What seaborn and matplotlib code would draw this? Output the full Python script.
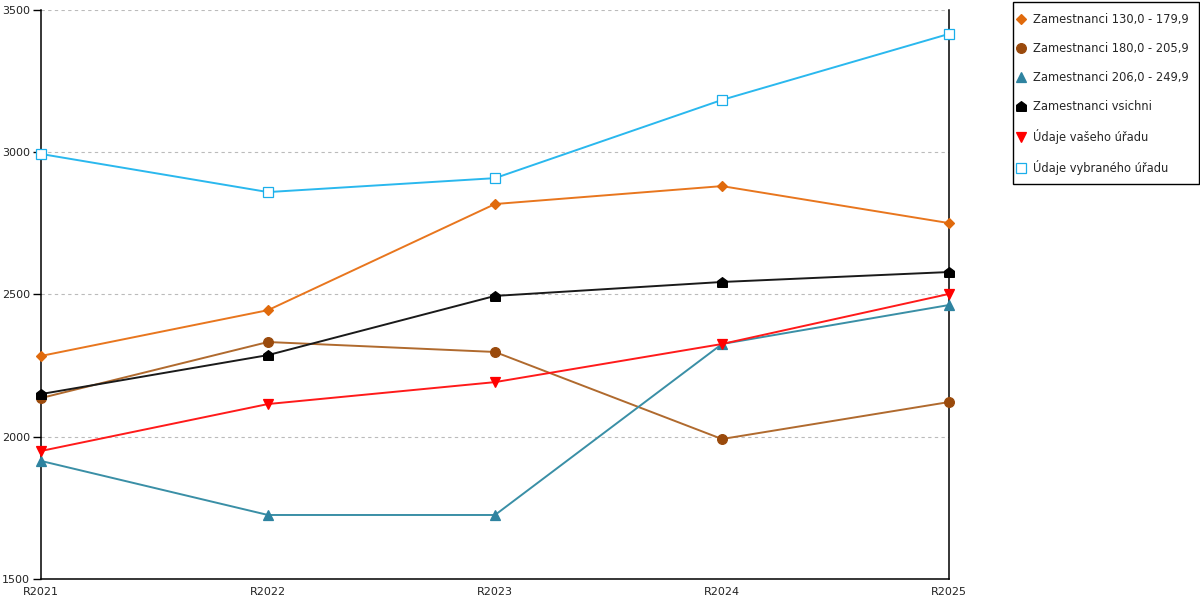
import matplotlib
matplotlib.use("Agg")
import matplotlib.pyplot as plt
import seaborn as sns
import pandas as pd
from matplotlib.lines import Line2D
from matplotlib.patches import Rectangle

roky = ["R2021", "R2022", "R2023", "R2024", "R2025"]

zam_130_179 = [2284, 2445, 2818, 2881, 2751]
zam_180_205 = [2136, 2333, 2298, 1992, 2122]
zam_206_249 = [1915, 1725, 1725, 2326, 2463]
zam_vsichni = [2150, 2287, 2495, 2544, 2579]
vas_urad = [1950, 2115, 2192, 2326, 2502]
vybrany_urad = [2994, 2860, 2909, 3184, 3416]

# marker "domecek" pro vsechny zamestnance
domecek = [(-1, -1), (1, -1), (1, 0.25), (0, 1), (-1, 0.25), (-1, -1)]

serie = [
    ("Zamestnanci 130,0 - 179,9", zam_130_179, "#E8761E", "#E06A0C", "D", 5.5, None),
    ("Zamestnanci 180,0 - 205,9", zam_180_205, "#B06A2E", "#9A4A0C", "o", 7, None),
    ("Zamestnanci 206,0 - 249,9", zam_206_249, "#3A8FA6", "#2E83A0", "^", 7.5, None),
    ("Zamestnanci vsichni", zam_vsichni, "#1A1A1A", "#000000", domecek, 7, None),
    ("Údaje vašeho úřadu", vas_urad, "#FF1A1A", "#FF0000", "v", 7.5, None),
    ("Údaje vybraného úřadu", vybrany_urad, "#2AB8EE", "#1AAEEA", "s", 7, "white"),
]

sns.set_style("white")
plt.rcParams["font.family"] = ["DejaVu Sans"]

fig = plt.figure(figsize=(12, 6), dpi=100)
ax = fig.add_axes([41 / 1200, 21 / 600, 908 / 1200, 569 / 600])

handles = []
for nazev, hodnoty, c_line, c_mark, mk, ms, face in serie:
    df = pd.DataFrame({"rok": roky, "hodnota": hodnoty})
    fc = face if face is not None else c_mark
    sns.lineplot(data=df, x="rok", y="hodnota", ax=ax, color=c_line,
                 linewidth=1.4, marker=mk, markersize=ms,
                 markerfacecolor=fc, markeredgecolor=c_mark,
                 markeredgewidth=0.9, clip_on=False, zorder=3)
    handles.append(Line2D([], [], linestyle="none", marker=mk, markersize=ms,
                          markerfacecolor=fc, markeredgecolor=c_mark,
                          markeredgewidth=0.9, label=nazev))

ax.set_xlim(0, 4)
ax.set_ylim(1500, 3500)
ax.set_yticks([1500, 2000, 2500, 3000, 3500])
ax.set_xticks(range(5))
ax.set_xticklabels(roky)
ax.set_xticks([0.5, 1.5, 2.5, 3.5], minor=True)
ax.set_xlabel("")
ax.set_ylabel("")

ax.yaxis.grid(True, color="#BBBBBB", linestyle=(0, (3, 3)), linewidth=0.8)
ax.xaxis.grid(False)
ax.set_axisbelow(True)

for s in ["left", "bottom", "right"]:
    ax.spines[s].set_visible(True)
    ax.spines[s].set_color("black")
    ax.spines[s].set_linewidth(1.1)
ax.spines["top"].set_visible(False)

ax.tick_params(axis="x", which="both", direction="inout", length=7, width=1,
               color="black", labelsize=8, pad=2, labelcolor="#222222")
ax.tick_params(axis="y", which="both", direction="out", length=6, width=1,
               color="black", labelsize=8, pad=2, labelcolor="#222222",
               left=True)

# ramecek legendy
fig.patches.append(Rectangle((1013 / 1200, 1 - 184 / 600), 186 / 1200, 182 / 600,
                             transform=fig.transFigure, fill=False,
                             edgecolor="black", linewidth=1.0))

leg = fig.legend(handles=handles, loc="upper left",
                 bbox_to_anchor=(1016 / 1200, 1 - 13 / 600),
                 frameon=False, fontsize=8.3,
                 labelspacing=1.38, handlelength=0.9, handletextpad=0.6,
                 borderpad=0, borderaxespad=0)

fig.savefig("out.png", dpi=100)
